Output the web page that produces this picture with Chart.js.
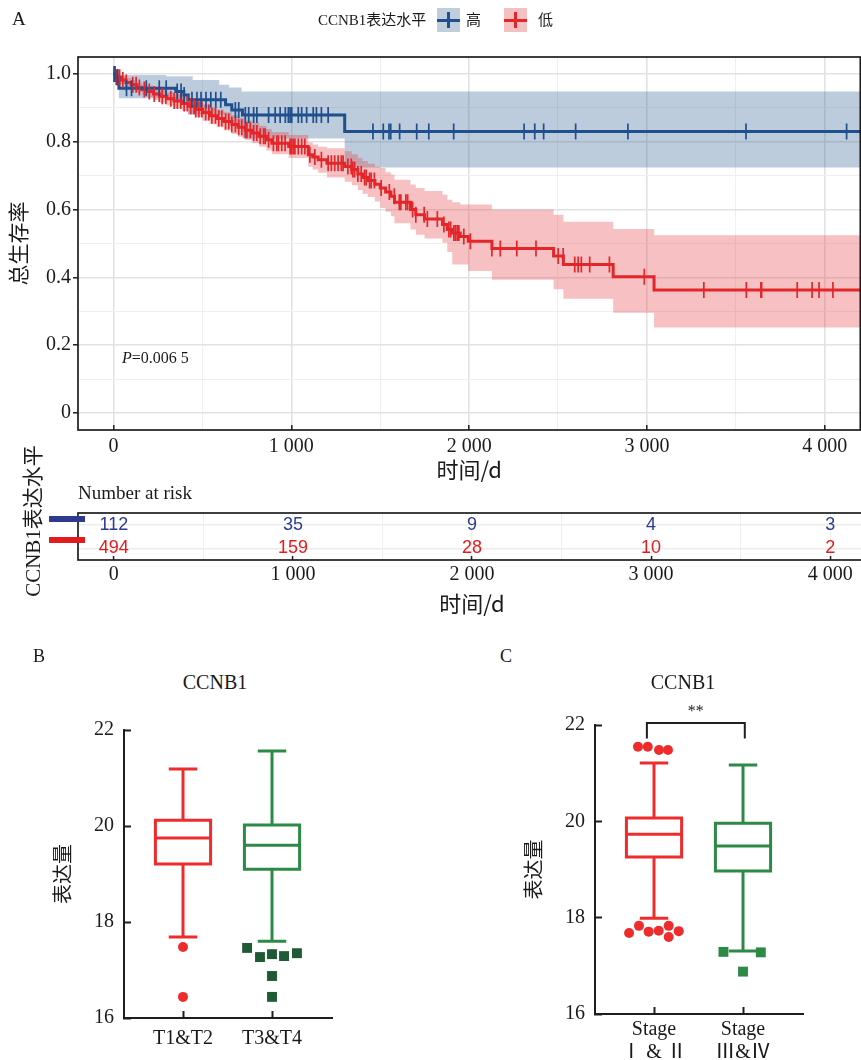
<!DOCTYPE html>
<html>
<head>
<meta charset="utf-8">
<script src="https://cdn.jsdelivr.net/npm/chart.js@4.4.1/dist/chart.umd.min.js"></script>
<style>
html,body{margin:0;padding:0;background:#fff;overflow:hidden;width:861px;height:1060px;}
.abs{position:absolute;}
.serif{font-family:"Liberation Serif","Noto Sans CJK SC",serif;color:#1a1a1a;white-space:nowrap;}
canvas{position:absolute;}
</style>
</head>
<body>
<canvas id="km" width="870" height="490" style="left:0;top:0"></canvas>
<canvas id="risk" width="870" height="130" style="left:0;top:490px"></canvas>
<canvas id="boxB" width="345" height="360" style="left:0;top:700px"></canvas>
<canvas id="boxC" width="345" height="370" style="left:470px;top:690px"></canvas>

<!-- panel A texts -->
<div class="abs serif" style="left:12px;top:8px;font-size:19px;line-height:22px;">A</div>
<div class="abs serif" style="left:318px;top:10px;font-size:15px;line-height:20px;">CCNB1表达水平</div>
<div class="abs" style="left:437px;top:8px;width:23px;height:24px;background:#bfcddc;">
  <div class="abs" style="left:0;width:23px;top:11px;height:3px;background:#1f4f8d"></div>
  <div class="abs" style="left:10px;width:2.5px;top:4px;height:16px;background:#1f4f8d"></div>
</div>
<div class="abs serif" style="left:466px;top:10px;font-size:15px;line-height:20px;">高</div>
<div class="abs" style="left:504px;top:8px;width:23px;height:24px;background:#f4c1c2;">
  <div class="abs" style="left:0;width:23px;top:11px;height:3px;background:#e3262a"></div>
  <div class="abs" style="left:10px;width:2.5px;top:4px;height:16px;background:#e3262a"></div>
</div>
<div class="abs serif" style="left:538px;top:10px;font-size:15px;line-height:20px;">低</div>
<div class="abs serif" style="left:122px;top:348px;font-size:16px;line-height:20px;"><i>P</i>=0.006 5</div>
<div class="abs serif" style="left:78px;top:482px;font-size:19px;line-height:22px;">Number at risk</div>
<div class="abs serif" style="left:33px;top:521px;font-size:21px;line-height:24px;transform:translate(-50%,-50%) rotate(-90deg);">CCNB1表达水平</div>

<!-- panel B/C texts -->
<div class="abs serif" style="left:33px;top:645px;font-size:18px;line-height:22px;">B</div>
<div class="abs serif" style="left:215px;top:671px;font-size:20px;line-height:22px;transform:translateX(-50%);">CCNB1</div>
<div class="abs serif" style="left:500px;top:645px;font-size:18px;line-height:22px;">C</div>
<div class="abs serif" style="left:683px;top:671px;font-size:20px;line-height:22px;transform:translateX(-50%);">CCNB1</div>

<div class="abs" style="left:49px;top:516px;width:36px;height:6px;background:#2d3a8f"></div>
<div class="abs" style="left:49px;top:537px;width:36px;height:6px;background:#e41a1c"></div>

<script>
// ================= Panel A : Kaplan-Meier data =================
const kmXMin = -200, kmXMax = 4200, kmYMin = -0.05, kmYMax = 1.05;
const kmEndTime = 4400;

const highTimes = [0, 12, 30, 350, 395, 420, 630, 665, 725, 1300];
const highSurv  = [1.0, 0.99, 0.958, 0.948, 0.938, 0.924, 0.909, 0.894, 0.879, 0.83];
const highBandTimes = [0, 12, 30, 296, 350, 420, 445, 594, 630, 650, 665, 720, 725, 1300];
const highUpper = [1.0, 1.0, 0.997, 0.993, 0.993, 0.993, 0.982, 0.968, 0.968, 0.96, 0.96, 0.948, 0.948, 0.948];
const highLower = [1.0, 0.97, 0.928, 0.928, 0.915, 0.88, 0.88, 0.88, 0.86, 0.86, 0.845, 0.845, 0.81, 0.724];
const highCensor = [3, 8, 22, 73, 101, 184, 257, 296, 358, 380, 397, 441, 469, 492, 520, 547, 575, 603,
  685, 704, 741, 760, 788, 806, 872, 909, 937, 966, 983, 993, 1002, 1039, 1058, 1086, 1123, 1141, 1169,
  1207, 1459, 1517, 1549, 1559, 1609, 1705, 1773, 1913, 2309, 2369, 2419, 2599, 2893, 3557, 4123];

const lowTimes = [0,15,40,70,100,130,160,190,225,260,300,340,385,420,460,500,540,580,620,665,700,740,780,820,860,
  890,985,1095,1120,1151,1200,1300,1340,1374,1400,1430,1470,1500,1530,1560,1580,1670,1700,1749,1850,
  1877,1905,1950,1995,2128,2475,2530,2810,3040];
const lowSurv = [1.0,0.99,0.982,0.975,0.968,0.96,0.954,0.948,0.941,0.934,0.927,0.92,0.913,0.905,0.895,
  0.886,0.877,0.869,0.86,0.851,0.843,0.834,0.826,0.816,0.806,0.796,0.786,0.762,0.755,0.747,
  0.737,0.727,0.718,0.705,0.695,0.686,0.675,0.664,0.652,0.639,0.622,0.60,0.585,0.572,0.556,
  0.541,0.531,0.521,0.507,0.485,0.463,0.438,0.402,0.363];
const lowUpper = [1.0,0.998,0.994,0.988,0.982,0.975,0.97,0.965,0.958,0.952,0.946,0.94,0.934,0.927,0.918,
  0.91,0.902,0.895,0.887,0.878,0.871,0.863,0.856,0.847,0.838,0.829,0.82,0.798,0.792,0.785,
  0.781,0.772,0.763,0.752,0.743,0.735,0.726,0.723,0.71,0.703,0.688,0.674,0.664,0.655,0.644,
  0.629,0.622,0.615,0.615,0.60,0.585,0.564,0.543,0.524];
const lowLower = [1.0,0.982,0.97,0.962,0.954,0.945,0.938,0.931,0.923,0.915,0.907,0.899,0.891,0.882,0.872,
  0.862,0.852,0.843,0.833,0.823,0.815,0.805,0.796,0.785,0.774,0.763,0.752,0.726,0.718,0.709,
  0.695,0.682,0.672,0.658,0.647,0.637,0.624,0.605,0.594,0.58,0.56,0.541,0.526,0.515,0.502,
  0.475,0.438,0.438,0.419,0.393,0.365,0.337,0.296,0.252];
const lowCensor = [6,15,24,34,52,71,108,127,145,173,201,229,257,274,294,322,341,359,378,397,415,434,453,462,480,
  497,518,536,553,573,592,609,630,648,665,685,704,721,741,750,769,788,806,825,844,853,872,899,918,927,946,965,
  993,1002,1011,1020,1039,1058,1076,1104,1132,1169,1207,1225,1244,1263,1281,1291,1318,1337,1346,1356,1374,1393,
  1412,1421,1440,1449,1467,1505,1551,1579,1607,1616,1644,1654,1682,1700,1747,1765,1821,1858,1886,1896,1914,1923,
  1933,1942,1970,2007,2128,2175,2268,2376,2501,2529,2594,2613,2631,2678,2789,2985,3320,3559,3641,3645,3845,
  3929,3968,4046];

const kmXTicks = [0, 1000, 2000, 3000, 4000];
const kmXTickLabels = ['0', '1 000', '2 000', '3 000', '4 000'];
const kmXMinor = [500, 1500, 2500, 3500];
const kmYTicks = [0, 0.2, 0.4, 0.6, 0.8, 1.0];
const kmYTickLabels = ['0', '0.2', '0.4', '0.6', '0.8', '1.0'];
const kmYMinor = [0.1, 0.3, 0.5, 0.7, 0.9];

// Number at risk
const riskTimes = [0, 1000, 2000, 3000, 4000];
const riskHigh = [112, 35, 9, 4, 3];
const riskLow = [494, 159, 28, 10, 2];

// ================= Panel B / C : box plots =================
const bCategories = ['T1&T2', 'T3&T4'];
const bStats = [[17.69, 19.21, 19.75, 20.12, 21.19], [17.60, 19.10, 19.60, 20.02, 21.56]]; // min,q1,median,q3,max
const bOut1X = [0, 0];
const bOut1Y = [17.48, 16.44];
const bOut2X = [-0.28, -0.135, 0, 0.135, 0.28, 0, 0];
const bOut2Y = [17.46, 17.27, 17.33, 17.29, 17.35, 16.875, 16.44];

const cCategories = [['Stage', 'Ⅰ & Ⅱ'], ['Stage', 'Ⅲ&Ⅳ']];
const cStats = [[17.99, 19.26, 19.73, 20.07, 21.21], [17.31, 18.97, 19.49, 19.96, 21.17]];
const cOut1X = [-0.18, -0.07, 0.056, 0.157, -0.28, -0.169, -0.06, 0.053, 0.165, 0.165, 0.278];
const cOut1Y = [21.55, 21.55, 21.48, 21.48, 17.68, 17.83, 17.71, 17.73, 17.83, 17.60, 17.72];
const cOut2X = [-0.22, 0.2, 0];
const cOut2Y = [17.29, 17.28, 16.88];
const cSigX = [0.92, 2.02];     // bracket ends (category units)
const cSigY = [21.72, 22.04];   // leg bottom, bar level
const cSigLabel = '**';
const cSigLabelY = 22.28;

const boxYTicks = [16, 18, 20, 22];

// ================= colours =================
const HIGH = '#1f4f8d', HIGH_BAND = 'rgba(46,96,146,0.32)';
const LOW = '#e3262a', LOW_BAND = 'rgba(230,50,55,0.30)';
const RISK_HIGH = '#2d3a8f', RISK_LOW = '#e41a1c';
const BOX_RED = '#ee2c2c', BOX_GREEN = '#2d8a46', OUT_GREEN = '#1e5a34';
const SERIF = '"Liberation Serif", "Noto Sans CJK SC", serif';
const CJK = '"Noto Sans CJK SC", "Liberation Serif", sans-serif';

// ================= helpers =================
function steps(times, vals) {
  const d = times.map((t, i) => ({x: t, y: vals[i]}));
  d.push({x: kmEndTime, y: vals[vals.length - 1]});
  return d;
}
function survAt(times, vals, t) {
  let s = vals[0];
  for (let i = 0; i < times.length; i++) { if (times[i] <= t) s = vals[i]; else break; }
  return s;
}
function boxPath(xc, s, hw, cw) {
  const [mn, q1, md, q3, mx] = s;
  return [
    {x: xc, y: q1}, {x: xc + hw, y: q1}, {x: xc + hw, y: q3}, {x: xc - hw, y: q3}, {x: xc - hw, y: q1}, {x: xc, y: q1},
    {x: xc, y: null},
    {x: xc - hw, y: md}, {x: xc + hw, y: md}, {x: xc, y: null},
    {x: xc, y: q3}, {x: xc, y: mx}, {x: xc, y: null},
    {x: xc - cw, y: mx}, {x: xc + cw, y: mx}, {x: xc, y: null},
    {x: xc, y: q1}, {x: xc, y: mn}, {x: xc, y: null},
    {x: xc - cw, y: mn}, {x: xc + cw, y: mn}
  ];
}
const framePlugin = {
  id: 'frame',
  afterDraw(chart, args, opts) {
    if (!opts || !opts.show) return;
    const {left, top, right, bottom} = chart.chartArea;
    const ctx = chart.ctx;
    ctx.save();
    ctx.strokeStyle = '#1e1e1e';
    ctx.lineWidth = 1.7;
    ctx.strokeRect(left, top, right - left, bottom - top);
    ctx.restore();
  }
};
const textPlugin = {
  id: 'pointText',
  afterDatasetsDraw(chart) {
    const ctx = chart.ctx;
    chart.data.datasets.forEach((ds, i) => {
      if (!ds.textLabels) return;
      const meta = chart.getDatasetMeta(i);
      ctx.save();
      ctx.font = ds.textFont;
      ctx.fillStyle = ds.textColor;
      ctx.textAlign = 'center';
      ctx.textBaseline = 'middle';
      meta.data.forEach((pt, j) => ctx.fillText(ds.textLabels[j], pt.x, pt.y));
      ctx.restore();
    });
  }
};
const isIn = (arr, v) => arr.some(a => Math.abs(a - v) < 1e-9);

// ================= Chart A : KM =================
new Chart(document.getElementById('km'), {
  type: 'line',
  data: {
    datasets: [
      {label: 'high-censor', type: 'scatter', data: highCensor.map(t => ({x: t, y: survAt(highTimes, highSurv, t)})),
        pointStyle: 'line', pointRotation: 90, pointRadius: 8, pointBorderColor: HIGH, pointBorderWidth: 1.7, showLine: false, order: 0},
      {label: 'low-censor', type: 'scatter', data: lowCensor.map(t => ({x: t, y: survAt(lowTimes, lowSurv, t)})),
        pointStyle: 'line', pointRotation: 90, pointRadius: 8, pointBorderColor: LOW, pointBorderWidth: 1.7, showLine: false, order: 0},
      {label: '高', data: steps(highTimes, highSurv), stepped: true, borderColor: HIGH, borderWidth: 3, pointRadius: 0, fill: false, order: 1},
      {label: '低', data: steps(lowTimes, lowSurv), stepped: true, borderColor: LOW, borderWidth: 3, pointRadius: 0, fill: false, order: 1},
      {label: 'high-upper', data: steps(highBandTimes, highUpper), stepped: true, borderColor: 'rgba(0,0,0,0)', borderWidth: 1, pointRadius: 0, fill: '+1', backgroundColor: HIGH_BAND, order: 3},
      {label: 'high-lower', data: steps(highBandTimes, highLower), stepped: true, borderColor: 'rgba(0,0,0,0)', borderWidth: 1, pointRadius: 0, fill: false, order: 3},
      {label: 'low-upper', data: steps(lowTimes, lowUpper), stepped: true, borderColor: 'rgba(0,0,0,0)', borderWidth: 1, pointRadius: 0, fill: '+1', backgroundColor: LOW_BAND, order: 2},
      {label: 'low-lower', data: steps(lowTimes, lowLower), stepped: true, borderColor: 'rgba(0,0,0,0)', borderWidth: 1, pointRadius: 0, fill: false, order: 2}
    ]
  },
  options: {
    responsive: false, animation: false, events: [],
    layout: {padding: {top: 57, right: 4, left: 0, bottom: 0}},
    plugins: {legend: {display: false}, tooltip: {enabled: false}, frame: {show: true}},
    scales: {
      x: {
        type: 'linear', min: kmXMin, max: kmXMax,
        afterBuildTicks: s => { s.ticks = kmXTicks.concat(kmXMinor).sort((a, b) => a - b).map(v => ({value: v})); },
        afterFit: s => { s.height = 60; },
        ticks: {
          autoSkip: false, maxRotation: 0, padding: 10, color: '#1a1a1a',
          font: {family: SERIF, size: 20},
          callback: v => { const i = kmXTicks.indexOf(v); return i >= 0 ? kmXTickLabels[i] : ''; }
        },
        grid: {
          color: c => isIn(kmXTicks, c.tick.value) ? '#e2e2e2' : '#efefef',
          lineWidth: c => isIn(kmXTicks, c.tick.value) ? 1.6 : 1.1,
          tickLength: -5,
          tickColor: c => isIn(kmXTicks, c.tick.value) ? '#1e1e1e' : 'rgba(0,0,0,0)',
          tickWidth: 1.5
        },
        border: {display: false},
        title: {display: true, text: '时间/d', color: '#1a1a1a', font: {family: CJK, size: 22}, padding: {top: 0, bottom: 7}}
      },
      y: {
        type: 'linear', min: kmYMin, max: kmYMax,
        afterBuildTicks: s => { s.ticks = kmYTicks.concat(kmYMinor).sort((a, b) => a - b).map(v => ({value: v})); },
        afterFit: s => { s.width = 78; },
        ticks: {
          autoSkip: false, padding: 2, color: '#1a1a1a',
          font: {family: SERIF, size: 20},
          callback: v => { const i = kmYTicks.indexOf(v); return i >= 0 ? kmYTickLabels[i] : ''; }
        },
        grid: {
          color: c => isIn(kmYTicks, c.tick.value) ? '#e2e2e2' : '#efefef',
          lineWidth: c => isIn(kmYTicks, c.tick.value) ? 1.6 : 1.1,
          tickLength: 5,
          tickColor: c => isIn(kmYTicks, c.tick.value) ? '#1e1e1e' : 'rgba(0,0,0,0)',
          tickWidth: 1.5
        },
        border: {display: false},
        title: {display: true, text: '总生存率', color: '#1a1a1a', font: {family: CJK, size: 21}, padding: {top: 5, bottom: 0}}
      }
    }
  },
  plugins: [framePlugin]
});

// ================= Risk table =================
new Chart(document.getElementById('risk'), {
  type: 'scatter',
  data: {
    datasets: [
      {label: '高', data: riskTimes.map(t => ({x: t, y: 1})), pointRadius: 0,
        textLabels: riskHigh.map(String), textColor: RISK_HIGH, textFont: '18px "Liberation Sans", sans-serif'},
      {label: '低', data: riskTimes.map(t => ({x: t, y: 0})), pointRadius: 0,
        textLabels: riskLow.map(String), textColor: RISK_LOW, textFont: '18px "Liberation Sans", sans-serif'}
    ]
  },
  options: {
    responsive: false, animation: false, events: [],
    layout: {padding: {top: 23, right: 4, left: 0, bottom: 0}},
    plugins: {legend: {display: false}, tooltip: {enabled: false}, frame: {show: true}},
    scales: {
      x: {
        type: 'linear', min: kmXMin, max: kmXMax,
        afterBuildTicks: s => { s.ticks = kmXTicks.concat(kmXMinor).sort((a, b) => a - b).map(v => ({value: v})); },
        afterFit: s => { s.height = 60; },
        ticks: {
          autoSkip: false, maxRotation: 0, padding: 7, color: '#1a1a1a',
          font: {family: SERIF, size: 20},
          callback: v => { const i = kmXTicks.indexOf(v); return i >= 0 ? kmXTickLabels[i] : ''; }
        },
        grid: {
          color: '#f0f0f0', lineWidth: 1.1, tickLength: -4,
          tickColor: c => isIn(kmXTicks, c.tick.value) ? '#1e1e1e' : 'rgba(0,0,0,0)', tickWidth: 1.5
        },
        border: {display: false},
        title: {display: true, text: '时间/d', color: '#1a1a1a', font: {family: CJK, size: 22}, padding: {top: 0, bottom: 3}}
      },
      y: {
        type: 'linear', min: -0.5, max: 1.5,
        afterBuildTicks: s => { s.ticks = [{value: 0}, {value: 1}]; },
        afterFit: s => { s.width = 78; },
        ticks: {display: false},
        grid: {color: '#ececec', lineWidth: 1.4, drawTicks: false},
        border: {display: false}
      }
    }
  },
  plugins: [framePlugin, textPlugin]
});

// ================= Box plot builder =================
function boxChart(canvasId, cats, stats, out1X, out1Y, out2X, out2Y, extra, cfg) {
  const datasets = [
    {label: 'box1', data: boxPath(1, stats[0], 0.31, 0.16), showLine: true, borderColor: BOX_RED, borderWidth: 3,
      pointRadius: 0, borderJoinStyle: 'miter', borderCapStyle: 'butt', spanGaps: false, order: 2},
    {label: 'box2', data: boxPath(2, stats[1], 0.31, 0.16), showLine: true, borderColor: BOX_GREEN, borderWidth: 3,
      pointRadius: 0, borderJoinStyle: 'miter', borderCapStyle: 'butt', spanGaps: false, order: 2},
    {label: 'out1', data: out1X.map((dx, i) => ({x: 1 + dx, y: out1Y[i]})), pointStyle: 'circle', pointRadius: 5,
      pointBackgroundColor: BOX_RED, pointBorderWidth: 0, showLine: false, order: 1},
    {label: 'out2', data: out2X.map((dx, i) => ({x: 2 + dx, y: out2Y[i]})), pointStyle: 'rect', pointRadius: 7,
      pointBackgroundColor: cfg.sqColor, pointBorderWidth: 0, showLine: false, order: 1}
  ].concat(extra);
  new Chart(document.getElementById(canvasId), {
    type: 'scatter',
    data: {datasets},
    options: {
      responsive: false, animation: false, events: [],
      layout: {padding: {top: cfg.padTop, right: cfg.padRight, left: 0, bottom: 0}},
      plugins: {legend: {display: false}, tooltip: {enabled: false}},
      scales: {
        x: {
          type: 'linear', min: 0.337, max: 2.674,
          afterBuildTicks: s => { s.ticks = [{value: 1}, {value: 2}]; },
          afterFit: s => { s.height = cfg.xHeight; },
          ticks: {autoSkip: false, maxRotation: 0, padding: cfg.xPad, color: '#1a1a1a',
            font: {family: SERIF, size: 20, lineHeight: cfg.xLine},
            callback: v => cats[v - 1]},
          grid: {drawOnChartArea: false, tickLength: -7, tickColor: '#1e1e1e', tickWidth: 2},
          border: {display: true, color: '#1e1e1e', width: 2}
        },
        y: {
          type: 'linear', min: 16, max: 22,
          afterBuildTicks: s => { s.ticks = boxYTicks.map(v => ({value: v})); },
          afterFit: s => { s.width = cfg.yWidth; },
          ticks: {autoSkip: false, padding: 17, color: '#1a1a1a', font: {family: SERIF, size: 20},
            callback: v => String(v)},
          grid: {drawOnChartArea: false, tickLength: -7, tickColor: '#1e1e1e', tickWidth: 2},
          border: {display: true, color: '#1e1e1e', width: 2},
          title: {display: true, text: '表达量', color: '#1a1a1a', font: {family: CJK, size: 20},
            padding: {top: cfg.yTitlePad, bottom: 0}}
        }
      }
    },
    plugins: [textPlugin]
  });
}

boxChart('boxB', bCategories, bStats, bOut1X, bOut1Y, bOut2X, bOut2Y, [],
  {sqColor: OUT_GREEN, padTop: 30, padRight: 13, xHeight: 42, yWidth: 124, yTitlePad: 50, xPad: 17, xLine: 1.1});

boxChart('boxC', cCategories, cStats, cOut1X, cOut1Y, cOut2X, cOut2Y, [
    {label: 'sig', data: [{x: cSigX[0], y: cSigY[0]}, {x: cSigX[0], y: cSigY[1]}, {x: cSigX[1], y: cSigY[1]}, {x: cSigX[1], y: cSigY[0]}],
      showLine: true, borderColor: '#1e1e1e', borderWidth: 2, pointRadius: 0, clip: false, order: 0},
    {label: 'sigText', data: [{x: (cSigX[0] + cSigX[1]) / 2, y: cSigLabelY}], pointRadius: 0, clip: false,
      textLabels: [cSigLabel], textColor: '#1a1a1a', textFont: '16px "Liberation Serif", serif'}
  ],
  {sqColor: BOX_GREEN, padTop: 35, padRight: 12, xHeight: 46, yWidth: 125, yTitlePad: 51, xPad: 11, xLine: 1.15});
</script>
</body>
</html>
